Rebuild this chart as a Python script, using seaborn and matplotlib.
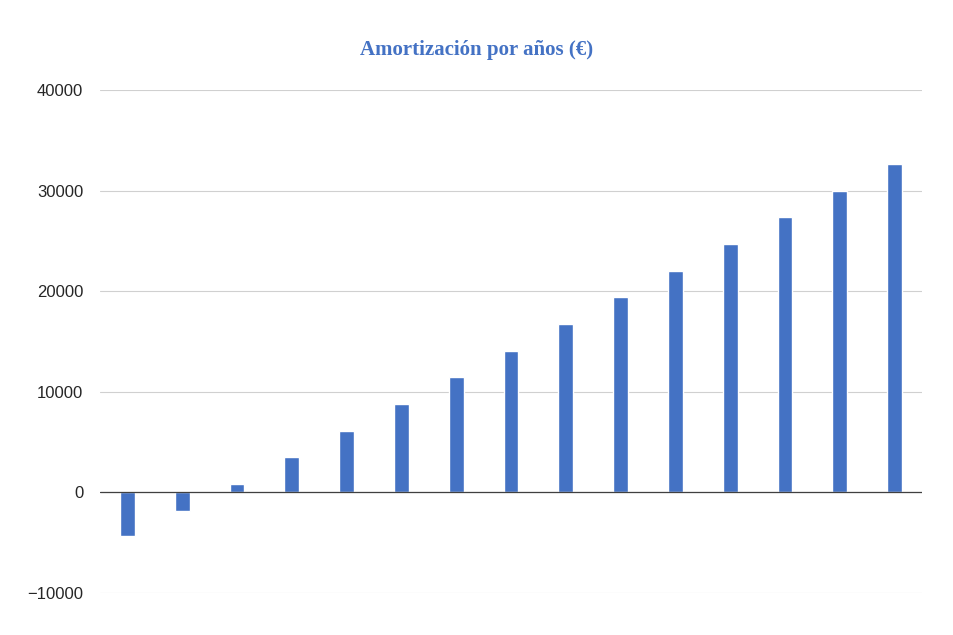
import matplotlib
matplotlib.use("Agg")
import matplotlib.pyplot as plt
import seaborn as sns
import pandas as pd

# años y amortizacion
anos = list(range(1, 16))
amortizacion = [-4380, -1800, 800, 3480, 6070, 8760, 11440, 14030,
                16720, 19400, 21990, 24680, 27360, 29950, 32640]

df = pd.DataFrame({"ano": anos, "valor": amortizacion})

sns.set_style("white")
plt.rcParams['font.family'] = ['Liberation Sans', 'DejaVu Sans']

fig = plt.figure(figsize=(9.54, 6.35), dpi=100)
ax = fig.add_axes([100/954, 42/635, 822/954, 503/635])
sns.barplot(data=df, x="ano", y="valor", color="#4472C4", saturation=1,
            width=0.27, ax=ax, zorder=3)
ax.set_ylim(-10000, 40000)
ax.set_yticks(range(-10000, 40001, 10000))
ax.grid(axis="y", color="#d0d0d0", linewidth=0.8, zorder=0)
ax.axhline(0, color="#404040", linewidth=0.9, zorder=4)
for s in ax.spines.values():
    s.set_visible(False)
ax.set_xticks([])
ax.set_xlabel("")
ax.set_ylabel("")
ax.tick_params(axis="y", length=0, labelsize=12, pad=12)
fig.suptitle("Amortización por años (€)", y=1-50/635, va="center",
             fontsize=15, fontweight="bold", color="#4472C4",
             family=["Liberation Serif", "DejaVu Serif"])
fig.savefig("out.png", dpi=100)
